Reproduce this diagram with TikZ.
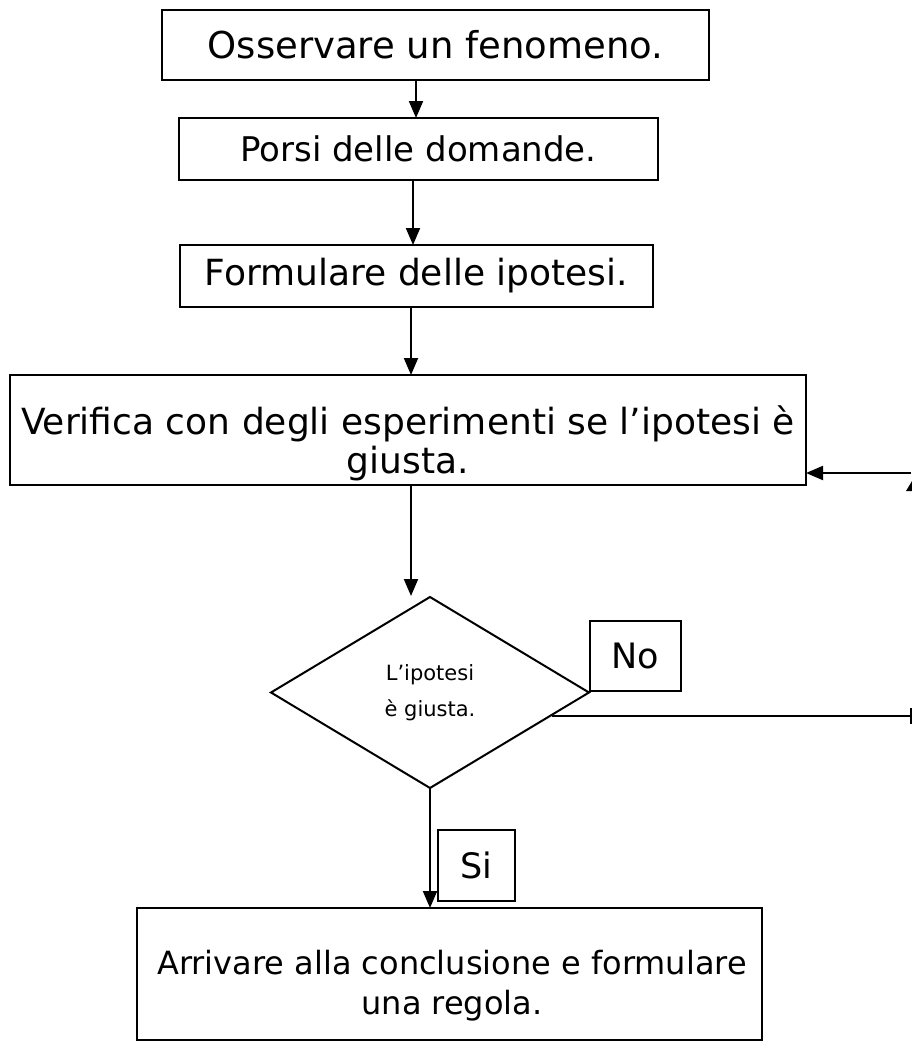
\documentclass[tikz,border=0pt]{standalone}
\usepackage{fontspec}
\setmainfont{DejaVu Sans}
\usetikzlibrary{arrows.meta,calc,shapes.geometric}
\begin{document}
\begin{tikzpicture}[x=1pt,y=-1pt,
  every node/.style={inner sep=0pt, outer sep=0pt},
  box/.style={draw, line width=2pt, rectangle},
  txt/.style={align=center},
  lbl/.style={draw, line width=2pt, rectangle, font=\fontsize{35}{42}\selectfont},
  conn/.style={line width=2pt},
  arr/.style={line width=2pt, -{Triangle[length=17pt,width=14pt]}}
]
\useasboundingbox (0,0) rectangle (912,1044);
\node[box, minimum width=547, minimum height=70, font=\fontsize{37}{44}\selectfont] (b1) at (435.5,45) {Osservare un fenomeno.};
\node[box, minimum width=479, minimum height=62, font=\fontsize{34}{44}\selectfont] (b2) at (418.5,149) {Porsi delle domande.};
\node[box, minimum width=473, minimum height=62, font=\fontsize{36}{44}\selectfont] (b3) at (416.5,276) {Formulare delle ipotesi.};
\node[box, minimum width=796, minimum height=110] (b4) at (408,430) {};
\node[txt, font=\fontsize{36}{39}\selectfont] (b4t) at (408,443) {Verifica con degli esperimenti se l’ipotesi è\\giusta.};
\node[draw, line width=2pt, diamond, aspect=1.67, minimum width=318, minimum height=191, align=center, font=\fontsize{21}{36}\selectfont] (d) at (430,692.5) {L’ipotesi\\è giusta.};
\node[lbl, minimum width=91, minimum height=70] (no) at (635.5,656) {No};
\node[lbl, minimum width=77, minimum height=71] (si) at (476.5,865.5) {Si};
\node[box, minimum width=625, minimum height=132] (b5) at (449.5,974) {};
\node[txt, font=\fontsize{32}{40}\selectfont] (b5t) at (452,986) {Arrivare alla conclusione e formulare\\una regola.};
\coordinate (c1) at (416,0);
\coordinate (c2) at (413,0);
\coordinate (c3) at (411,0);
\coordinate (c4) at (411,0);
\coordinate (dtop) at (411,596);
\coordinate (rt) at (911,716);
\coordinate (rtop) at (911,473);

\draw[arr] (b1.south -| c1) -- (b2.north -| c1);
\draw[arr] (b2.south -| c2) -- (b3.north -| c2);
\draw[arr] (b3.south -| c3) -- (b4.north -| c3);
\draw[arr] (b4.south -| c4) -- (dtop);
\draw[conn] ($(d.east)+(-37,23.5)$) -- (rt);
\draw[conn] ($(rt)+(0,-8)$) -- ($(rt)+(0,8)$);
\draw[arr] (rtop) -- (b4.east |- rtop);
\fill (915,476) -- (906,491) -- (924,491) -- cycle;
\draw[arr] (d.south) -- (d.south |- b5.north);
\end{tikzpicture}
\end{document}
